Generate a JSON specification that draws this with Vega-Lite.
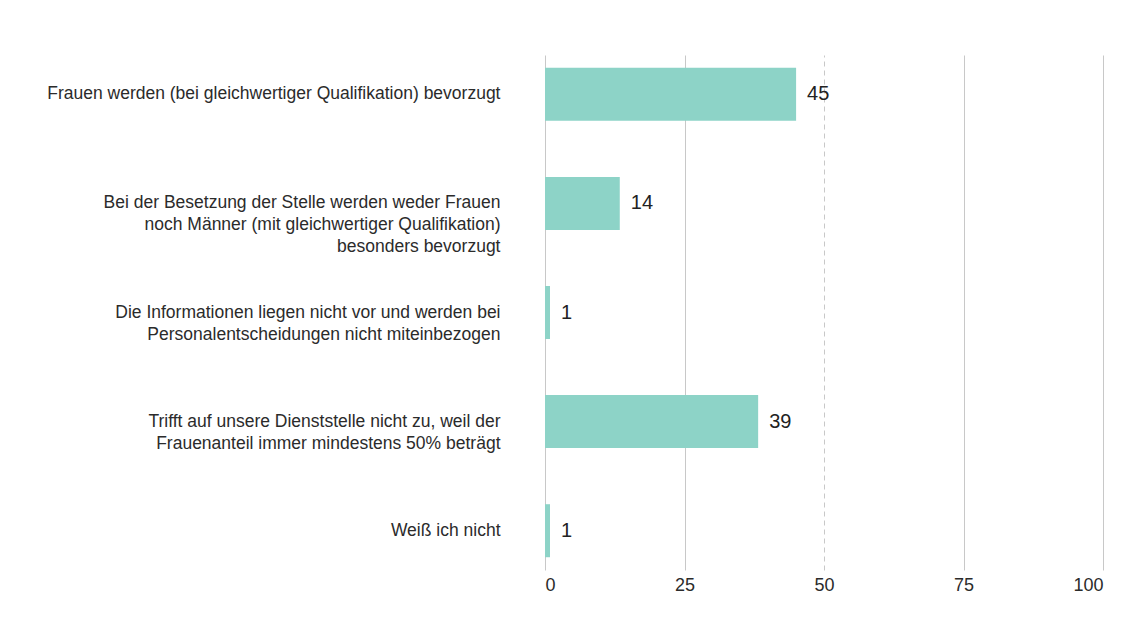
{
  "$schema": "https://vega.github.io/schema/vega-lite/v6.json",
  "autosize": "none",
  "width": 558,
  "height": 515,
  "padding": {"left": 545, "top": 55, "right": 19, "bottom": 54},
  "background": "white",
  "config": {
    "view": {"stroke": null},
    "font": "Liberation Sans"
  },
  "data": {
    "values": [
      {"antwort": "Frauen werden (bei gleichwertiger Qualifikation) bevorzugt", "anteil": 45.0, "label": "45"},
      {"antwort": "Bei der Besetzung der Stelle werden weder Frauen|noch Männer (mit gleichwertiger Qualifikation)|besonders bevorzugt", "anteil": 13.4, "label": "14"},
      {"antwort": "Die Informationen liegen nicht vor und werden bei|Personalentscheidungen nicht miteinbezogen", "anteil": 0.9, "label": "1"},
      {"antwort": "Trifft auf unsere Dienststelle nicht zu, weil der|Frauenanteil immer mindestens 50% beträgt", "anteil": 38.2, "label": "39"},
      {"antwort": "Weiß ich nicht", "anteil": 0.9, "label": "1"}
    ]
  },
  "encoding": {
    "y": {
      "field": "antwort",
      "type": "nominal",
      "sort": null,
      "title": null,
      "scale": {"paddingInner": 0.514, "paddingOuter": 0.117},
      "axis": {
        "labelExpr": "split(datum.label, '|')",
        "labelFont": "Liberation Sans",
        "labelFontSize": 17.5,
        "labelColor": "#2b2b2b",
        "labelLineHeight": 22,
        "labelPadding": 45,
        "labelLimit": 600,
        "ticks": false,
        "domain": false,
        "grid": false
      }
    }
  },
  "layer": [
    {
      "mark": {"type": "bar", "color": "#8dd3c7"},
      "encoding": {
        "x": {
          "field": "anteil",
          "type": "quantitative",
          "title": null,
          "scale": {"domain": [0, 100], "nice": false},
          "axis": {
            "values": [0, 25, 50, 75, 100],
            "grid": true,
            "gridColor": "#c8c8c8",
            "gridWidth": 1,
            "gridDash": {"condition": {"test": "datum.value === 50", "value": [5, 4]}, "value": []},
            "domain": false,
            "ticks": false,
            "tickSize": 0,
            "labelPadding": 6,
            "labelFont": "Liberation Sans",
            "labelFontSize": 18,
            "labelColor": "#2b2b2b"
          }
        }
      }
    },
    {
      "mark": {"type": "text", "align": "left", "baseline": "middle", "dx": 11, "fontSize": 20, "font": "Liberation Sans", "color": "#222222"},
      "encoding": {
        "x": {"field": "anteil", "type": "quantitative"},
        "text": {"field": "label"}
      }
    }
  ]
}
